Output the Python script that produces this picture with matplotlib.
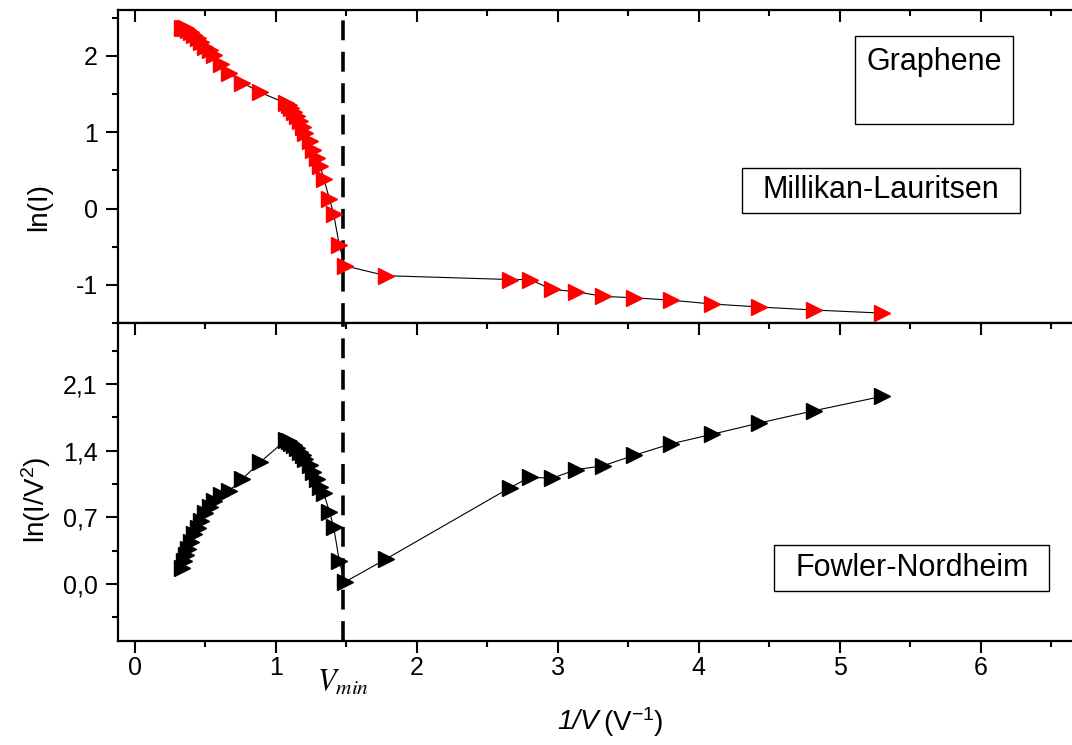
import matplotlib
matplotlib.use('Agg')
import matplotlib.pyplot as plt
from matplotlib.ticker import MultipleLocator, FuncFormatter
from matplotlib.patches import Rectangle

plt.rcParams['font.family'] = ['Liberation Sans', 'DejaVu Sans']
plt.rcParams['mathtext.fontset'] = 'custom'
plt.rcParams['mathtext.rm'] = 'Liberation Sans'
plt.rcParams['mathtext.it'] = 'Liberation Sans:italic'
plt.rcParams['axes.unicode_minus'] = False

# 1/V values (V^-1), shared by both panels
inv_v = [0.335, 0.35, 0.365, 0.38, 0.40, 0.42, 0.445, 0.47, 0.50, 0.53, 0.56, 0.61, 0.67, 0.76, 0.89,
         1.07, 1.09, 1.11, 1.13, 1.15, 1.17, 1.19, 1.21, 1.24, 1.265, 1.29, 1.315, 1.34, 1.38, 1.41, 1.45, 1.49,
         1.78, 2.66, 2.80, 2.96, 3.13, 3.32, 3.54, 3.80, 4.09, 4.43, 4.82, 5.30]

# Millikan-Lauritsen: ln(I)
ln_i = [2.37, 2.37, 2.36, 2.34, 2.31, 2.27, 2.23, 2.18, 2.12, 2.07, 2.01, 1.89, 1.77, 1.65, 1.52,
        1.38, 1.35, 1.31, 1.26, 1.21, 1.14, 1.07, 0.99, 0.88, 0.77, 0.66, 0.56, 0.39, 0.13, -0.07, -0.48, -0.75,
        -0.88, -0.93, -0.93, -1.06, -1.09, -1.15, -1.17, -1.20, -1.25, -1.29, -1.33, -1.37]

# Fowler-Nordheim: ln(I/V^2)
ln_i_v2 = [0.17, 0.24, 0.30, 0.37, 0.44, 0.52, 0.59, 0.66, 0.74, 0.81, 0.87, 0.93, 0.98, 1.10, 1.28,
           1.51, 1.50, 1.48, 1.46, 1.43, 1.39, 1.35, 1.31, 1.25, 1.18, 1.10, 1.02, 0.95, 0.76, 0.60, 0.24, 0.02,
           0.26, 1.01, 1.12, 1.11, 1.20, 1.24, 1.35, 1.47, 1.57, 1.69, 1.82, 1.97]

v_min = 1.475

fig = plt.figure(figsize=(10.72, 7.45), dpi=100)
ax1 = fig.add_axes([0.110, 0.5664, 0.897, 0.4202])
ax2 = fig.add_axes([0.110, 0.1396, 0.897, 0.4268])


def style(ax):
    for s in ax.spines.values():
        s.set_linewidth(1.6)
    ax.tick_params(which='both', direction='out', width=1.5, labelsize=18)
    ax.tick_params(which='major', length=8.5)
    ax.tick_params(which='minor', length=4.5)
    ax.tick_params(which='both', top=True, right=True)
    ax.tick_params(axis='x', which='both', pad=2)
    ax.tick_params(axis='y', which='both', pad=6)
    ax.xaxis.set_major_locator(MultipleLocator(1))
    ax.xaxis.set_minor_locator(MultipleLocator(0.5))
    ax.set_xlim(-0.12, 6.70)


style(ax1)
style(ax2)
# inward mirrored ticks on top and right
for ax in (ax1, ax2):
    for t in ax.xaxis.get_major_ticks() + ax.xaxis.get_minor_ticks():
        t.tick2line.set_marker(3)
    for t in ax.yaxis.get_major_ticks() + ax.yaxis.get_minor_ticks():
        t.tick2line.set_marker(1)

ax1.plot(inv_v, ln_i, color='black', lw=0.8, marker='>', ms=11, mfc='red', mec='red')
ax1.set_ylim(-1.5, 2.6)
ax1.yaxis.set_major_locator(MultipleLocator(1))
ax1.yaxis.set_minor_locator(MultipleLocator(0.5))
ax1.tick_params(axis='x', labelbottom=False)
ax1.set_ylabel('ln(I)', fontsize=20)
ax1.yaxis.set_label_coords(-0.068, 0.37)

ax2.plot(inv_v, ln_i_v2, color='black', lw=0.8, marker='>', ms=11, mfc='black', mec='black')
ax2.set_ylim(-0.6, 2.74)
ax2.yaxis.set_major_locator(MultipleLocator(0.7))
ax2.yaxis.set_minor_locator(MultipleLocator(0.35))
ax2.yaxis.set_major_formatter(FuncFormatter(lambda v, p: f'{v:.1f}'.replace('.', ',').replace('-0,0', '0,0')))
ax2.set_ylabel('ln(I/V$^{2}$)', fontsize=20)
ax2.yaxis.set_label_coords(-0.068, 0.443)

# x label: italic "1/V" followed by upright unit
fig.text(599 / 1072, 1 - 722 / 745, '1/V', fontsize=20, style='italic', ha='right', va='center')
fig.text(603 / 1072, 1 - 722 / 745, '(V$^{\\mathregular{-1}}$)', fontsize=20, ha='left', va='center')

for ax in (ax1, ax2):
    ax.axvline(v_min, color='black', lw=2.6, dashes=(5.5, 3.2), zorder=1)

ax2.text(v_min, -0.13, r'$V_{min}$', transform=ax2.get_xaxis_transform(),
         ha='center', va='center', fontsize=22, math_fontfamily='stix')

# annotation boxes
ax1.add_patch(Rectangle((0.767, 0.636), 0.164, 0.281, transform=ax1.transAxes,
                        fill=False, ec='black', lw=1.0))
ax1.text(0.849, 0.834, 'Graphene', transform=ax1.transAxes, ha='center', va='center', fontsize=22)
ax1.add_patch(Rectangle((0.649, 0.351), 0.289, 0.144, transform=ax1.transAxes,
                        fill=False, ec='black', lw=1.0))
ax1.text(0.7935, 0.425, 'Millikan-Lauritsen', transform=ax1.transAxes, ha='center', va='center', fontsize=22)
ax2.add_patch(Rectangle((0.6825, 0.157), 0.286, 0.145, transform=ax2.transAxes,
                        fill=False, ec='black', lw=1.0))
ax2.text(0.8255, 0.2296, 'Fowler-Nordheim', transform=ax2.transAxes, ha='center', va='center', fontsize=22)

fig.savefig('out.png', dpi=100)
